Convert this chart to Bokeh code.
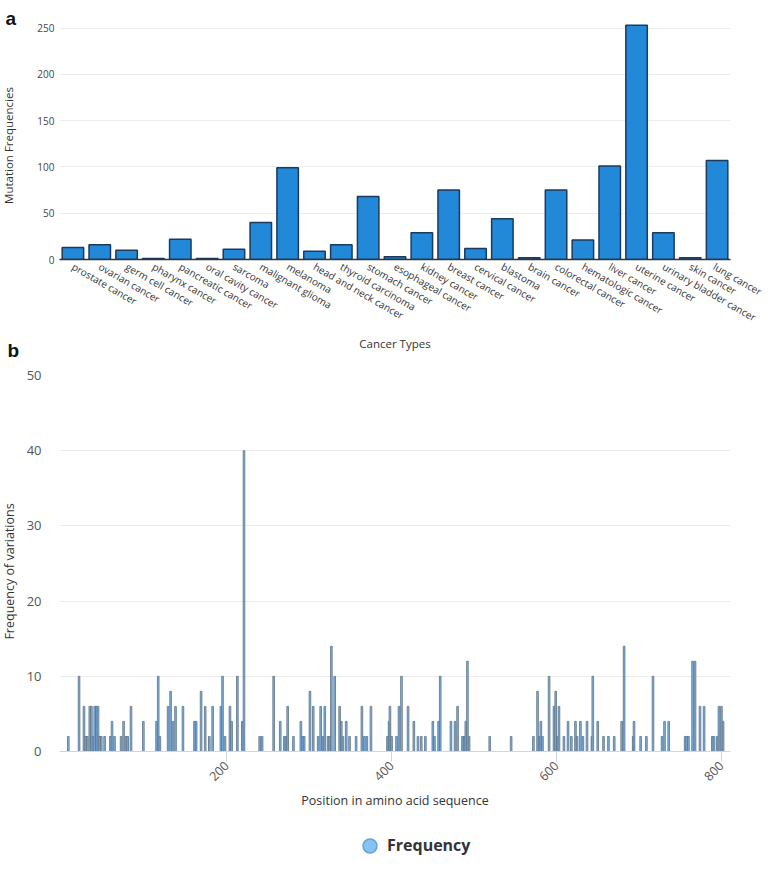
import math
from bokeh.plotting import figure
from bokeh.models import (Range1d, FactorRange, Legend, LegendItem, FixedTicker)
from bokeh.core.properties import value
from bokeh.layouts import column, row
from bokeh.embed import file_html
from bokeh.resources import INLINE

FONT = "Open Sans"

# ---------------- data: panel a ----------------
cancer_types = [
    "prostate cancer", "ovarian cancer", "germ cell cancer", "pharynx cancer",
    "pancreatic cancer", "oral cavity cancer", "sarcoma", "malignant glioma",
    "melanoma", "head and neck cancer", "thyroid carcinoma", "stomach cancer",
    "esophageal cancer", "kidney cancer", "breast cancer", "cervical cancer",
    "blastoma", "brain cancer", "colorectal cancer", "hematologic cancer",
    "liver cancer", "uterine cancer", "urinary bladder cancer", "skin cancer",
    "lung cancer",
]
mutation_freq = [13, 16, 10, 1, 22, 1, 11, 40, 99, 9, 16, 68, 3, 29, 75, 12,
                 44, 2, 75, 21, 101, 253, 29, 2, 107]
a_yticks = [0, 50, 100, 150, 200, 250]

# ---------------- data: panel b ----------------
positions = [
    8, 21, 27, 29, 31, 34, 36, 38, 40, 42, 44, 46, 48, 52, 59, 61, 64, 72, 75,
    78, 80, 84, 99, 115, 117, 119, 129, 132, 135, 138, 147, 161, 163, 169, 174,
    179, 183, 193, 195, 198, 204, 206, 213, 219, 221, 240, 243, 257, 265, 270,
    272, 274, 281, 290, 292, 294, 301, 305, 311, 314, 317, 319, 323, 325, 327,
    331, 337, 339, 341, 345, 349, 357, 364, 367, 370, 375, 395, 397, 398, 400,
    406, 409, 412, 420, 427, 432, 436, 441, 450, 452, 457, 459, 472, 477, 480,
    486, 488, 490, 492, 494, 519, 545, 572, 577, 579, 581, 583, 591, 597, 599,
    601, 603, 609, 614, 618, 623, 625, 629, 632, 637, 643, 644, 650, 657, 663,
    670, 679, 682, 693, 694, 702, 709, 717, 728, 731, 736, 756, 758, 760, 765,
    768, 774, 779, 789, 791, 795, 797, 800, 802,
]
variation_freq = [
    2, 10, 6, 2, 2, 6, 6, 2, 6, 6, 6, 2, 2, 2, 2, 4, 2, 2, 4,
    2, 2, 6, 4, 4, 10, 2, 6, 8, 4, 6, 6, 4, 4, 8, 6,
    2, 6, 6, 10, 2, 6, 4, 10, 4, 40, 2, 2, 10, 4, 2,
    2, 6, 2, 4, 2, 2, 8, 6, 2, 6, 2, 6, 2, 2, 14,
    10, 6, 4, 2, 4, 2, 2, 6, 2, 2, 6, 2, 4, 6, 2,
    2, 6, 10, 6, 4, 2, 2, 2, 4, 2, 4, 10, 4, 4, 6,
    2, 2, 4, 12, 2, 2, 2, 2, 8, 2, 4, 2, 10, 6, 8,
    2, 6, 2, 4, 2, 4, 2, 4, 2, 4, 2, 10, 4, 2, 2,
    2, 4, 14, 2, 4, 2, 2, 10, 2, 4, 4, 2, 2, 2, 12,
    12, 6, 6, 2, 2, 2, 6, 6, 4,
]
b_yticks = [0, 10, 20, 30, 40, 50]
b_xticks = [200, 400, 600, 800]

# ---------------- left strip: panel letters and y-axis titles ----------------
pa = figure(x_range=Range1d(0, 20), y_range=Range1d(856, 0), width=20,
            height=856, output_backend="svg", toolbar_location=None,
            min_border=0)
pa.axis.visible = False
pa.grid.visible = False
pa.outline_line_color = None
pa.text(x=[5, 7], y=[17.5, 350], text=["a", "b"],
        text_font=value("Liberation Sans"),
        text_font_size="19px", text_font_style="bold",
        text_baseline="alphabetic", text_align="left", text_color="#111111")
pa.text(x=[8], y=[145], text=["Mutation Frequencies"],
        angle=math.pi / 2, text_font=value(FONT), text_font_size="11.5px",
        text_baseline="middle", text_align="center", text_color="#333333")
pa.text(x=[9], y=[571], text=["Frequency of variations"],
        angle=math.pi / 2, text_font=value(FONT), text_font_size="12.5px",
        text_baseline="middle", text_align="center", text_color="#333333")

# ---------------- panel a ----------------
p1 = figure(x_range=FactorRange(*cancer_types, range_padding=0),
            y_range=Range1d(0, 256), width=744, height=364,
            output_backend="svg", toolbar_location=None,
            min_border_left=22, min_border_right=34, min_border_top=22,
            min_border_bottom=105)
p1.vbar(x=cancer_types, top=mutation_freq, width=0.8,
        fill_color="#2288d8", line_color="#1b3a5e", line_width=1.5)
p1.outline_line_color = None
p1.xgrid.grid_line_color = None
p1.ygrid.grid_line_color = "#ececec"
p1.yaxis.ticker = FixedTicker(ticks=a_yticks)
p1.yaxis.axis_line_color = None
p1.yaxis.major_tick_line_color = None
p1.yaxis.major_tick_out = 0
p1.yaxis.major_tick_in = 0
p1.yaxis.minor_tick_line_color = None
p1.yaxis.minor_tick_out = 0
p1.yaxis.major_label_standoff = 5
p1.yaxis.major_label_text_font = FONT
p1.yaxis.major_label_text_font_size = "10px"
p1.yaxis.major_label_text_color = "#444444"

p1.xaxis.axis_line_color = "#333333"
p1.xaxis.axis_line_width = 1.5
p1.xaxis.major_tick_line_color = None
p1.xaxis.major_tick_out = 0
p1.xaxis.major_tick_in = 0
p1.xaxis.minor_tick_line_color = None
p1.xaxis.minor_tick_out = 0
p1.xaxis.major_label_orientation = -0.52
p1.xaxis.major_label_standoff = 6
p1.xaxis.major_label_text_font = FONT
p1.xaxis.major_label_text_font_size = "10px"
p1.xaxis.major_label_text_color = "#333333"
p1.xaxis.axis_label = "Cancer Types"
p1.xaxis.axis_label_text_font = FONT
p1.xaxis.axis_label_text_font_size = "11.5px"
p1.xaxis.axis_label_text_font_style = "normal"
p1.xaxis.axis_label_text_color = "#333333"
p1.xaxis.axis_label_standoff = 3

# ---------------- panel b ----------------
p2 = figure(x_range=Range1d(-2.7, 811), y_range=Range1d(0, 50),
            width=744, height=464, output_backend="svg",
            toolbar_location=None,
            min_border_left=39, min_border_right=10, min_border_top=11,
            min_border_bottom=77)
p2.vbar(x=positions, top=variation_freq, width=2.0,
        fill_color="#7cb5ec", line_color="#5c7184", line_width=0.8)
p2.outline_line_color = None
p2.xgrid.grid_line_color = None
p2.ygrid.grid_line_color = "#ececec"
p2.yaxis.ticker = FixedTicker(ticks=b_yticks)
p2.yaxis.axis_line_color = None
p2.yaxis.major_tick_line_color = None
p2.yaxis.major_tick_out = 0
p2.yaxis.major_tick_in = 0
p2.yaxis.minor_tick_line_color = None
p2.yaxis.minor_tick_out = 0
p2.yaxis.major_label_standoff = 18
p2.yaxis.major_label_text_font = FONT
p2.yaxis.major_label_text_font_size = "13px"
p2.yaxis.major_label_text_color = "#555555"

p2.xaxis.ticker = FixedTicker(ticks=b_xticks)
p2.xaxis.axis_line_color = "#ccd6eb"
p2.xaxis.major_tick_line_color = "#ccd6eb"
p2.xaxis.major_tick_out = 10
p2.xaxis.major_tick_in = 0
p2.xaxis.minor_tick_line_color = None
p2.xaxis.minor_tick_out = 0
p2.xaxis.major_label_orientation = math.pi / 4
p2.xaxis.major_label_standoff = 2
p2.xaxis.major_label_text_font = FONT
p2.xaxis.major_label_text_font_size = "12.5px"
p2.xaxis.major_label_text_color = "#555555"
p2.xaxis.axis_label = "Position in amino acid sequence"
p2.xaxis.axis_label_text_font = FONT
p2.xaxis.axis_label_text_font_size = "12.5px"
p2.xaxis.axis_label_text_font_style = "normal"
p2.xaxis.axis_label_text_color = "#333333"
p2.xaxis.axis_label_standoff = 4

# ---------------- legend strip ----------------
p3 = figure(x_range=Range1d(0, 744), y_range=Range1d(0, 28), width=744,
            height=28, output_backend="svg", toolbar_location=None,
            min_border=0)
p3.axis.visible = False
p3.grid.visible = False
p3.outline_line_color = None
# legend key only: one NaN row so the key glyph is drawn but no mark appears
key = p3.circle(x=[float("nan")], y=[float("nan")], radius=1,
                fill_color="#86c3f0", line_color="#5aa5e0", line_width=1.5)
legend = Legend(items=[LegendItem(label="Frequency", renderers=[key])],
                location=(293, -6.5), glyph_width=35, glyph_height=35,
                padding=0, margin=0, spacing=0, label_standoff=0,
                border_line_color=None, background_fill_alpha=0,
                label_text_font=FONT, label_text_font_size="16px",
                label_text_font_style="bold", label_text_color="#333333")
p3.add_layout(legend)

layout = row(pa, column(p1, p2, p3, spacing=0), spacing=0)
open("out.html", "w").write(file_html(layout, INLINE))
